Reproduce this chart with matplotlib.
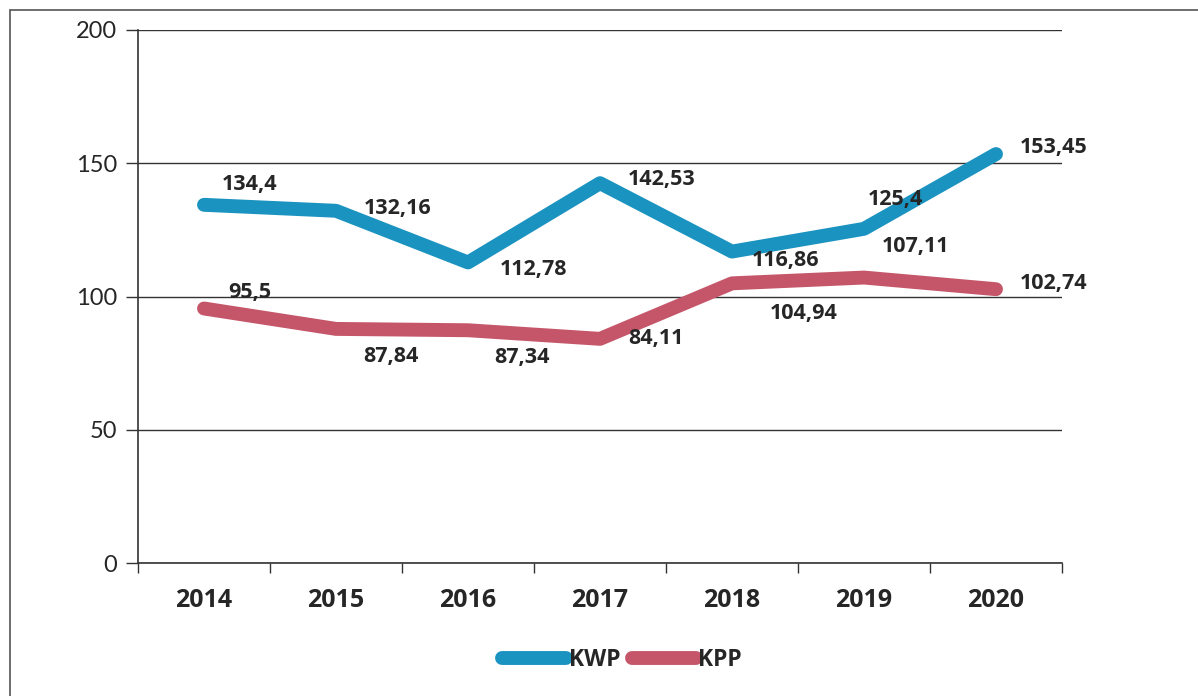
import numpy as np
import matplotlib.pyplot as plt
from matplotlib.patches import Rectangle

years = ['2014', '2015', '2016', '2017', '2018', '2019', '2020']
kwp = [134.4, 132.16, 112.78, 142.53, 116.86, 125.4, 153.45]
kpp = [95.5, 87.84, 87.34, 84.11, 104.94, 107.11, 102.74]
kwp_labels = ['134,4', '132,16', '112,78', '142,53', '116,86', '125,4', '153,45']
kpp_labels = ['95,5', '87,84', '87,34', '84,11', '104,94', '107,11', '102,74']

# label offsets (pixels) from each point
kwp_off = [(46, 20), (62, 2), (66, -7), (62, 4), (54, -9), (31, 29), (58, 7)]
kpp_off = [(46, 16), (55, -28), (54, -27), (56, 0), (72, -30), (52, 31), (58, 6)]

blue = '#1b93c0'
red = '#c5566a'
txt = '#262626'
bold_font = ['Open Sans', 'DejaVu Sans']

plt.rcParams['font.family'] = ['Lato', 'DejaVu Sans']

fig = plt.figure(figsize=(11.98, 6.96), dpi=100)
ax = fig.add_axes([138 / 1198, 1 - 563 / 696, (1062 - 138) / 1198, (563 - 30) / 696])

x = np.arange(len(years))
ax.plot(x, kwp, color=blue, lw=10, solid_capstyle='round', solid_joinstyle='round', label='KWP', zorder=3)
ax.plot(x, kpp, color=red, lw=10, solid_capstyle='round', solid_joinstyle='round', label='KPP', zorder=3)

for xi, v, lab, off in zip(x, kwp, kwp_labels, kwp_off):
    ax.annotate(lab, (xi, v), xytext=off, textcoords='offset pixels', family=bold_font,
                ha='center', va='center', fontsize=15.5, fontweight='bold', color=txt, zorder=4)
for xi, v, lab, off in zip(x, kpp, kpp_labels, kpp_off):
    ax.annotate(lab, (xi, v), xytext=off, textcoords='offset pixels', family=bold_font,
                ha='center', va='center', fontsize=15.5, fontweight='bold', color=txt, zorder=4)

ax.set_xlim(-0.5, len(years) - 0.5)
ax.set_ylim(0, 200)
ax.set_yticks([0, 50, 100, 150, 200])
ax.set_yticklabels(['0', '50', '100', '150', '200'], fontsize=17, color=txt)
ax.set_xticks(x)
ax.set_xticklabels(years, fontsize=18, fontweight='bold', color=txt, family=bold_font)
ax.set_xticks(np.arange(len(years) + 1) - 0.5, minor=True)
ax.tick_params(axis='x', which='major', length=0, pad=18)
ax.tick_params(axis='x', which='minor', length=7, width=1, color='#333333', direction='out')
ax.tick_params(axis='y', length=9, width=1, color='#333333', direction='out', pad=6)

ax.grid(axis='y', color='#333333', lw=1)
ax.set_axisbelow(True)
for s in ['top', 'right']:
    ax.spines[s].set_visible(False)
for s in ['left', 'bottom']:
    ax.spines[s].set_color('#333333')
    ax.spines[s].set_linewidth(1.2)

leg = fig.legend(loc='center', bbox_to_anchor=(622 / 1198, 1 - 660 / 696), ncol=2,
                 frameon=False, prop={'family': bold_font, 'weight': 'bold', 'size': 16.5},
                 handlelength=2.8, handletextpad=0.1, columnspacing=0.5)
for t in leg.get_texts():
    t.set_color(txt)
for h in leg.get_lines():
    h.set_linewidth(10)

# outer chart border
fig.patches.append(Rectangle((10 / 1198, -0.05), 1.2, 1 - 10 / 696 + 0.05,
                             transform=fig.transFigure, fill=False, ec='#555555', lw=1.2))

fig.savefig('out.png', dpi=100)
